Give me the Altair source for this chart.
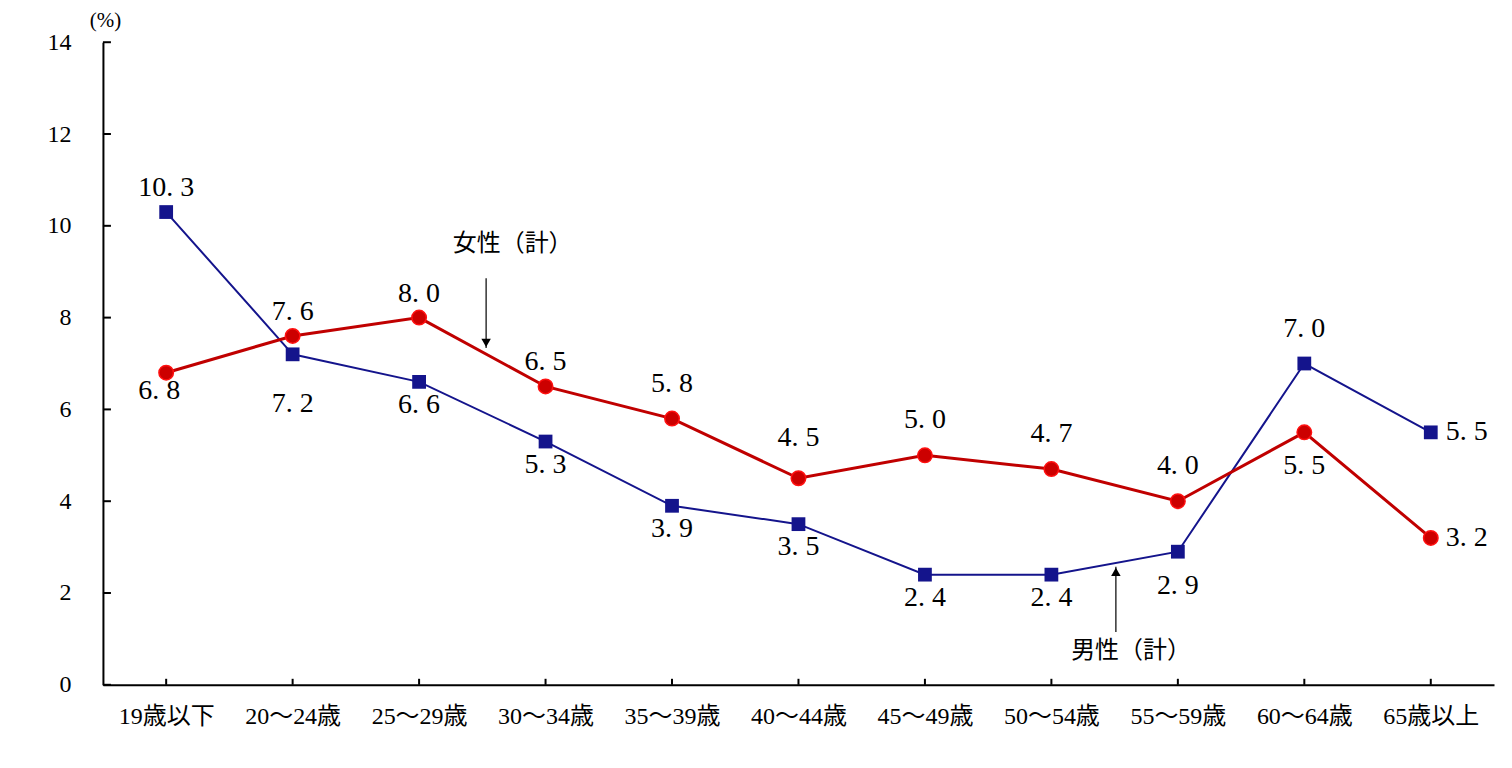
import json
import altair as alt
import pandas as pd

categories = ["19歳以下", "20～24歳", "25～29歳", "30～34歳", "35～39歳", "40～44歳",
              "45～49歳", "50～54歳", "55～59歳", "60～64歳", "65歳以上"]
male = [10.3, 7.2, 6.6, 5.3, 3.9, 3.5, 2.4, 2.4, 2.9, 7.0, 5.5]
female = [6.8, 7.6, 8.0, 6.5, 5.8, 4.5, 5.0, 4.7, 4.0, 5.5, 3.2]
male_place = ["above", "below3", "below", "below", "below", "below", "below", "below", "below2", "above2", "right"]
female_place = ["below0", "above", "above", "above", "above2", "above3", "above2", "above2", "above2", "below2", "right"]
y_ticks = [0, 2, 4, 6, 8, 10, 12, 14]

W, H = 1392, 643
FONT = "Liberation Serif, Noto Sans CJK JP, serif"
RED = "#C00000"
BLUE = "#14148C"

rows = []
for i, c in enumerate(categories):
    rows.append({"i": i, "cat": c, "series": "男性（計）", "v": male[i], "place": male_place[i],
                 "lab": f"{male[i]:.1f}".replace(".", ". ")})
    rows.append({"i": i, "cat": c, "series": "女性（計）", "v": female[i], "place": female_place[i],
                 "lab": f"{female[i]:.1f}".replace(".", ". ")})
df = pd.DataFrame(rows)

xscale = alt.Scale(domain=[-0.5, 10.5], nice=False, zero=False)
yscale = alt.Scale(domain=[0, 14], nice=False)
label_expr = json.dumps(categories, ensure_ascii=False) + "[datum.value]"

xenc = alt.X("i:Q", scale=xscale,
             axis=alt.Axis(values=list(range(len(categories))), labelExpr=label_expr, title=None,
                           grid=False, ticks=False, domainColor="black", domainWidth=2,
                           labelFont=FONT, labelFontSize=24, labelColor="black", labelPadding=20,
                           labelBaseline="top", labelAlign="center"))
yenc = alt.Y("v:Q", scale=yscale,
             axis=alt.Axis(values=y_ticks, title="(%)", grid=False, ticks=False,
                           domainColor="black", domainWidth=2,
                           labelFont=FONT, labelFontSize=24, labelColor="black", labelPadding=32,
                           titleFont=FONT, titleFontSize=21, titleFontWeight="normal", titleColor="black",
                           titleAngle=0, titleX=2, titleY=-22, titleAlign="center", titleBaseline="middle"))

base = alt.Chart(df)

m_line = base.transform_filter(alt.datum.series == "男性（計）").mark_line(color=BLUE, strokeWidth=2).encode(x=xenc, y=yenc)
f_line = base.transform_filter(alt.datum.series == "女性（計）").mark_line(color=RED, strokeWidth=3).encode(x="i:Q", y="v:Q")
m_pts = base.transform_filter(alt.datum.series == "男性（計）").mark_point(
    shape="square", filled=True, size=190, color=BLUE, opacity=1).encode(x="i:Q", y="v:Q")
f_pts = base.transform_filter(alt.datum.series == "女性（計）").mark_point(
    shape="circle", filled=True, size=210, fill="#CC0000", stroke="#FF1010", strokeWidth=1.5, opacity=1).encode(x="i:Q", y="v:Q")

offsets = {
    "above": (0, -24), "above2": (0, -35), "above3": (0, -40),
    "below0": (-7, 18), "below": (0, 23), "below2": (0, 34), "below3": (0, 50),
}
label_layers = []
for p, (dx, dy) in offsets.items():
    label_layers.append(
        base.transform_filter(alt.datum.place == p).mark_text(
            font=FONT, fontSize=28, color="black", dx=dx, dy=dy, baseline="middle", align="center"
        ).encode(x="i:Q", y="v:Q", text="lab:N"))
label_layers.append(
    base.transform_filter(alt.datum.place == "right").mark_text(
        font=FONT, fontSize=28, color="black", dx=15, dy=0, baseline="middle", align="left"
    ).encode(x="i:Q", y="v:Q", text="lab:N"))

# inward ticks
ytk = alt.Chart(pd.DataFrame({"t": y_ticks})).mark_rule(color="black", strokeWidth=2).encode(
    y="t:Q", x=alt.value(0), x2=alt.value(8))
xtk = alt.Chart(pd.DataFrame({"t": list(range(len(categories)))})).mark_rule(color="black", strokeWidth=2).encode(
    x="t:Q", y=alt.value(H), y2=alt.value(H - 6))

# annotations (arrows + labels) in data units
ann_x = [2.53, 7.51]
ann_from = [8.86, 1.15]
ann_to = [7.34, 2.57]
ann_text = ["女性（計）", "男性（計）"]
ann_text_x = [2.74, 7.63]
ann_text_y = [9.6, 0.74]
ann_shape = ["triangle-down", "triangle-up"]
ann_df = pd.DataFrame({"x": ann_x, "y1": ann_from, "y2": ann_to, "t": ann_text,
                       "tx": ann_text_x, "ty": ann_text_y, "shape": ann_shape})

arrow_line = alt.Chart(ann_df).mark_rule(color="black", strokeWidth=1.2).encode(x="x:Q", y="y1:Q", y2="y2:Q")
head_down = alt.Chart(ann_df).transform_filter(alt.datum.shape == "triangle-down").mark_point(
    shape="triangle-down", filled=True, color="black", size=90, opacity=1, yOffset=-5).encode(x="x:Q", y="y2:Q")
head_up = alt.Chart(ann_df).transform_filter(alt.datum.shape == "triangle-up").mark_point(
    shape="triangle-up", filled=True, color="black", size=90, opacity=1, yOffset=5).encode(x="x:Q", y="y2:Q")
ann_txt = alt.Chart(ann_df).mark_text(font=FONT, fontSize=24, color="black", baseline="middle", align="center").encode(
    x="tx:Q", y="ty:Q", text="t:N")

chart = alt.layer(
    m_line, f_line, ytk, xtk, m_pts, f_pts, *label_layers, arrow_line, head_down, head_up, ann_txt
).properties(
    width=W, height=H, autosize=alt.AutoSizeParams(type="none"), background="white",
    padding={"left": 95, "top": 34, "right": 10, "bottom": 60}
).configure_view(stroke=None)

chart.save("out.html", embed_options={"renderer": "svg", "actions": False})
